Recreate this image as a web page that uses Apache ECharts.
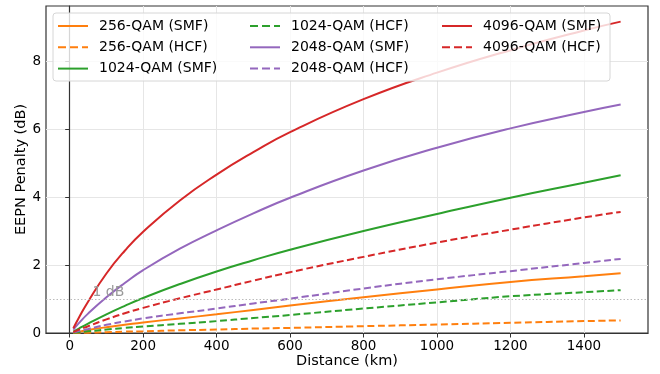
<!DOCTYPE html>
<html>
<head>
<meta charset="utf-8">
<script src="https://cdn.jsdelivr.net/npm/echarts@6/dist/echarts.min.js"></script>
<style>
  html, body { margin: 0; padding: 0; background: #fff; }
  #chart { width: 660px; height: 374px; }
</style>
</head>
<body>
<div id="chart"></div>
<script>
// distance samples (km)
const distances = [10, 25, 50, 100, 150, 200, 300, 400, 500, 600, 800, 1000, 1200, 1400, 1500]

// EEPN penalty (dB)
const qam256Smf = [0.01, 0.04, 0.09, 0.17, 0.24, 0.31, 0.43, 0.55, 0.68, 0.81, 1.05, 1.28, 1.5, 1.67, 1.76]
const qam256Hcf = [0, 0.005, 0.01, 0.025, 0.04, 0.05, 0.08, 0.1, 0.13, 0.15, 0.2, 0.25, 0.3, 0.35, 0.37]
const qam1024Smf = [0.04, 0.13, 0.275, 0.55, 0.8, 1.03, 1.44, 1.81, 2.14, 2.45, 3.0, 3.5, 3.98, 4.42, 4.64]
const qam1024Hcf = [0.01, 0.02, 0.05, 0.1, 0.15, 0.19, 0.27, 0.35, 0.44, 0.53, 0.72, 0.9, 1.08, 1.2, 1.26]
const qam2048Smf = [0.1, 0.29, 0.57, 1.05, 1.47, 1.85, 2.48, 3.02, 3.52, 3.98, 4.78, 5.45, 6.02, 6.5, 6.72]
const qam2048Hcf = [0.02, 0.06, 0.12, 0.24, 0.34, 0.43, 0.58, 0.72, 0.87, 1.01, 1.31, 1.58, 1.82, 2.06, 2.18]
const qam4096Smf = [0.14, 0.45, 0.92, 1.75, 2.42, 2.98, 3.9, 4.66, 5.32, 5.91, 6.88, 7.66, 8.32, 8.9, 9.16]
const qam4096Hcf = [0.03, 0.1, 0.2, 0.4, 0.58, 0.74, 1.02, 1.28, 1.54, 1.79, 2.24, 2.66, 3.04, 3.4, 3.56]

const xTicks = [0, 200, 400, 600, 800, 1000, 1200, 1400]
const yTicks = [0, 2, 4, 6, 8]

const FONT = 'DejaVu Sans'
const ORANGE = '#ff7f0e'
const GREEN = '#2ca02c'
const PURPLE = '#9467bd'
const RED = '#d62728'

// legend glyphs: plain bar for solid, three bars for dashed
const SOLID_ICON = 'path://M0,0h30v2h-30z'
const DASH_ICON = 'path://M0,0h8v2h-8z M12,0h8v2h-8z M24,0h6v2h-6z'

const pairs = (vals) => distances.map((d, i) => [d, vals[i]])

const mkLine = (name, vals, color, dashed) => ({
  name: name,
  type: 'line',
  data: pairs(vals),
  smooth: 0.5,
  symbol: 'none',
  z: 2,
  lineStyle: {
    color: color,
    width: 2,
    type: dashed ? [7, 3.5] : 'solid'
  },
  itemStyle: { color: color },
  emphasis: { disabled: true }
})

const series = [
  mkLine('256-QAM (SMF)', qam256Smf, ORANGE, false),
  mkLine('256-QAM (HCF)', qam256Hcf, ORANGE, true),
  mkLine('1024-QAM (SMF)', qam1024Smf, GREEN, false),
  mkLine('1024-QAM (HCF)', qam1024Hcf, GREEN, true),
  mkLine('2048-QAM (SMF)', qam2048Smf, PURPLE, false),
  mkLine('2048-QAM (HCF)', qam2048Hcf, PURPLE, true),
  mkLine('4096-QAM (SMF)', qam4096Smf, RED, false),
  mkLine('4096-QAM (HCF)', qam4096Hcf, RED, true)
]

// 1 dB reference line + label
series[0].markLine = {
  silent: true,
  symbol: 'none',
  label: { show: false },
  lineStyle: { color: '#bbbbbb', type: [1.5, 2], width: 1 },
  data: [{ yAxis: 1 }]
}
series[0].markPoint = {
  silent: true,
  symbol: 'circle',
  symbolSize: 0,
  data: [{ coord: [62, 1] }],
  label: {
    show: true,
    formatter: '1 dB',
    position: 'right',
    distance: 0,
    offset: [0, -7],
    color: '#999999',
    fontSize: 14,
    fontFamily: FONT
  }
}

const legendItem = (name) => ({
  name: name,
  icon: name.indexOf('HCF') >= 0 ? DASH_ICON : SOLID_ICON
})

const legendBase = {
  orient: 'vertical',
  itemWidth: 30,
  itemHeight: 2,
  itemGap: 7.3,
  padding: 0,
  top: 19,
  z: 11,
  selectedMode: false,
  textStyle: {
    fontFamily: FONT,
    fontSize: 14,
    color: '#000',
    padding: [0, 0, 0, 6]
  }
}

const option = {
  animation: false,
  backgroundColor: '#fff',
  graphic: [
    {
      type: 'rect',
      z: 10,
      shape: { x: 53, y: 13, width: 557, height: 68, r: 3 },
      style: { fill: 'rgba(255,255,255,0.8)', stroke: '#d6d6d6', lineWidth: 1 }
    }
  ],
  legend: [
    Object.assign({}, legendBase, { left: 58, data: ['256-QAM (SMF)', '256-QAM (HCF)', '1024-QAM (SMF)'].map(legendItem) }),
    Object.assign({}, legendBase, { left: 250, data: ['1024-QAM (HCF)', '2048-QAM (SMF)', '2048-QAM (HCF)'].map(legendItem) }),
    Object.assign({}, legendBase, { left: 442, data: ['4096-QAM (SMF)', '4096-QAM (HCF)'].map(legendItem) })
  ],
  grid: {
    left: 46,
    right: 12,
    top: 6,
    bottom: 41,
    show: true,
    borderColor: '#333',
    borderWidth: 1.2,
    containLabel: false
  },
  xAxis: {
    type: 'value',
    min: -64.5,
    max: 1574.5,
    name: 'Distance (km)',
    nameLocation: 'middle',
    nameGap: 21,
    nameMoveOverlap: false,
    nameTextStyle: { fontFamily: FONT, fontSize: 14.5, color: '#000' },
    axisLine: { show: true, lineStyle: { color: '#333', width: 1.2 } },
    axisTick: { show: true, customValues: xTicks, length: 4.5, lineStyle: { color: '#333' } },
    axisLabel: {
      customValues: xTicks,
      formatter: (v) => String(v),
      margin: 6,
      fontFamily: FONT,
      fontSize: 13.5,
      color: '#000'
    },
    splitLine: { show: true, lineStyle: { color: '#e6e6e6', width: 1 } }
  },
  yAxis: {
    type: 'value',
    min: 0,
    max: 9.62,
    name: 'EEPN Penalty (dB)',
    nameLocation: 'middle',
    nameGap: 17,
    nameMoveOverlap: false,
    nameTextStyle: { fontFamily: FONT, fontSize: 14.5, color: '#000' },
    axisLine: { show: true, lineStyle: { color: '#333', width: 1.2 } },
    axisTick: { show: true, customValues: yTicks, length: 4.5, lineStyle: { color: '#333' } },
    axisLabel: {
      customValues: yTicks,
      formatter: (v) => String(v),
      margin: 5,
      fontFamily: FONT,
      fontSize: 13.5,
      color: '#000'
    },
    splitLine: { show: true, lineStyle: { color: '#e6e6e6', width: 1 } }
  },
  series: series
}

const chart = echarts.init(document.getElementById('chart'), null, { renderer: 'canvas' })
chart.setOption(option)
</script>
</body>
</html>
